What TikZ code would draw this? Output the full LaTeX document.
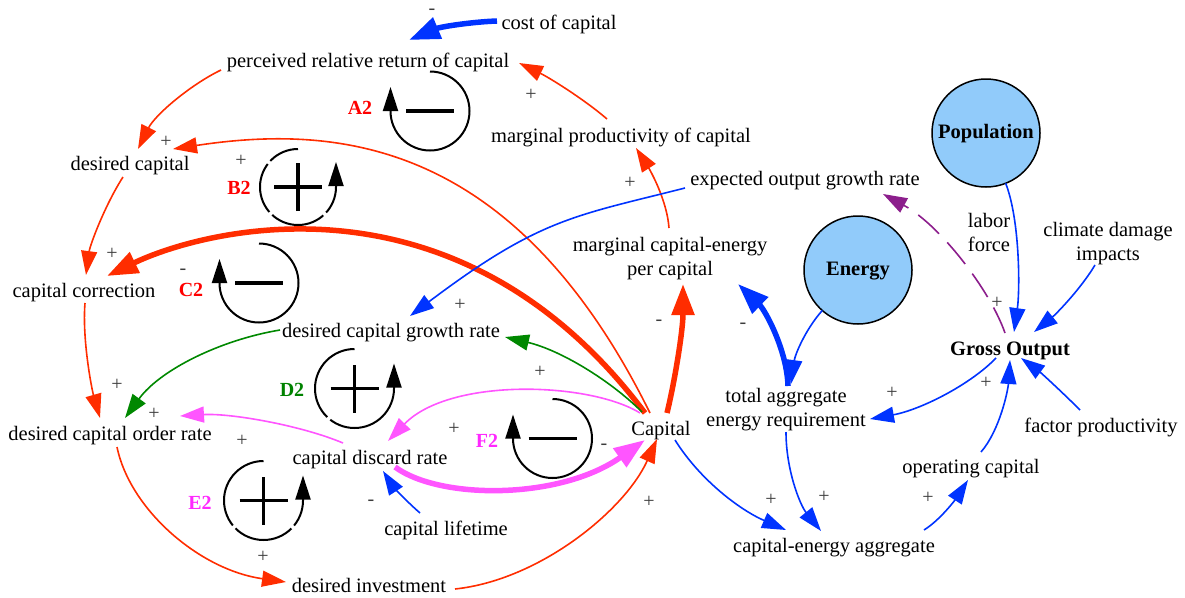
\documentclass[tikz,border=0pt]{standalone}
\usepackage{fontspec}
\setmainfont{Liberation Serif}
\usetikzlibrary{arrows.meta,calc}
\definecolor{cred}{RGB}{255,45,0}
\definecolor{cblue}{RGB}{0,51,255}
\definecolor{cgreen}{RGB}{0,136,0}
\definecolor{cmag}{RGB}{255,85,255}
\definecolor{cpur}{RGB}{140,30,140}
\definecolor{cfill}{RGB}{145,203,250}
\definecolor{lred}{RGB}{255,0,0}
\definecolor{lgreen}{RGB}{0,130,0}
\definecolor{lmag}{RGB}{255,40,255}
\definecolor{pmgray}{RGB}{60,60,60}
\begin{document}
\begin{tikzpicture}[x=1pt,y=-1pt,
  txt/.style={font=\fontsize{20.5}{24}\selectfont, inner sep=0pt, text height=14.5pt, text depth=4.5pt},
  txttwo/.style={font=\fontsize{20.5}{24}\selectfont, inner sep=0pt, align=center},
  boldtxt/.style={font=\fontsize{20.5}{24}\selectfont\bfseries, inner sep=0pt, text height=14.5pt, text depth=4.5pt},
  stock/.style={circle, draw=black, line width=1.5pt, fill=cfill, minimum size=108pt, inner sep=0pt, outer sep=0pt, text height=14.5pt, text depth=4.5pt, font=\fontsize{20.5}{24}\selectfont\bfseries},
  pm/.style={font=\fontsize{20}{24}\selectfont, text=pmgray, inner sep=0pt},
  looplab/.style={font=\fontsize{20}{24}\selectfont\bfseries, inner sep=0pt},
  lnk/.style={line width=1.6pt, -{Triangle[length=24pt,width=16pt]}},
  lnkthick/.style={line width=5.5pt, -{Triangle[length=31pt,width=22pt]}},
  loopc/.style={line width=2pt, -{Triangle[length=24pt,width=15pt]}},
  sign/.style={line width=3.3pt}
]
\useasboundingbox (0,0) rectangle (1185,597);

% ---------- variables ----------
\node[txt] (cost) at (559,24) {cost of capital};
\node[txt] (prrc) at (368,62) {perceived relative return of capital};
\node[txt] (mpc) at (621,137) {marginal productivity of capital};
\node[txt] (dc) at (130,165) {desired capital};
\node[txt] (eogr) at (805,180) {expected output growth rate};
\node[txttwo] (mce) at (670,259) {marginal capital-energy\\per capital};
\node[txt] (cc) at (84,292) {capital correction};
\node[txt] (dcgr) at (391,332) {desired capital growth rate};
\node[boldtxt] (go) at (1010,350) {Gross Output};
\node[txttwo] (lf) at (989,232) {labor\\force};
\node[txttwo] (cdi) at (1108,244) {climate damage\\impacts};
\node[txt] (dcor) at (110,435) {desired capital order rate};
\node[txt] (cdr) at (370,459) {capital discard rate};
\node[txt] (cap) at (661,430) {Capital};
\node[txttwo] (taer) at (786,410) {total aggregate\\energy requirement};
\node[txt] (fp) at (1101,427) {factor productivity};
\node[txt] (oc) at (971,468) {operating capital};
\node[txt] (cl) at (446,530) {capital lifetime};
\node[txt] (cea) at (834,547) {capital-energy aggregate};
\node[txt] (di) at (369,587) {desired investment};
\node[stock] (pop) at (986,133) {Population};
\node[stock] (en) at (858,270) {Energy};

% ---------- connectors ----------
\draw[lnkthick, cblue] ($(cost)+(-62,-3)$) .. controls (470,22) and (440,27) .. ($(prrc)+(41,-22)$);
\draw[lnk, cred] ($(mpc)+(-14,-18)$) .. controls (585,100) and (550,78) .. ($(prrc)+(151,1)$);
\draw[lnk, cred] ($(prrc)+(-147,8)$) .. controls (190,85) and (155,115) .. ($(dc)+(8,-16)$);
\draw[lnk, cred] ($(cap)+(-11,-17)$) .. controls (515,140) and (338,124) .. ($(dc)+(43,-16)$);
\draw[lnkthick, cred] ($(cap)+(-16,-17)$) .. controls (455,160) and (200,231) .. ($(cc)+(23,-16)$);
\draw[lnkthick, cred] ($(cap)+(6,-17)$) .. controls (675,380) and (683,330) .. ($(mce)+(13,25)$);
\draw[lnk, cred] ($(mce)+(-1,-31)$) .. controls (667,200) and (650,170) .. ($(mpc)+(15,11)$);
\draw[lnk, cblue] ($(eogr)+(-120,8)$) .. controls (575,216) and (540,218) .. ($(dcgr)+(19,-16)$);
\draw[lnk, cgreen] ($(cap)+(-19,-18)$) .. controls (610,380) and (560,350) .. ($(dcgr)+(114,5)$);
\draw[lnk, cgreen] ($(dcgr)+(-111,-2)$) .. controls (220,340) and (160,370) .. ($(dcor)+(15,-17)$);
\draw[lnk, cred] ($(dc)+(-7,12)$) .. controls (105,205) and (90,245) .. ($(cc)+(2,-17)$);
\draw[lnk, cred] ($(cc)+(1,11)$) .. controls (82,340) and (92,390) .. ($(dcor)+(-10,-17)$);
\draw[lnk, cmag] ($(cdr)+(-27,-16)$) .. controls (300,425) and (230,413) .. ($(dcor)+(70,-19)$);
\draw[lnk, cmag] ($(cap)+(-21,-17)$) .. controls (590,382) and (450,377) .. ($(cdr)+(18,-18)$);
\draw[lnkthick, cmag] ($(cdr)+(25,8)$) .. controls (440,500) and (560,500) .. ($(cap)+(-16,10)$);
\draw[lnk, cblue] ($(cl)+(-26,-17)$) .. controls (405,500) and (392,485) .. ($(cdr)+(13,12)$);
\draw[lnk, cred] ($(dcor)+(7,12)$) .. controls (130,510) and (200,570) .. ($(di)+(-83,-5)$);
\draw[lnk, cred] ($(di)+(86,2)$) .. controls (540,580) and (625,510) .. ($(cap)+(-4,9)$);
\draw[lnk, cblue] ($(cap)+(14,10)$) .. controls (700,480) and (740,510) .. ($(cea)+(-48,-17)$);
\draw[lnk, cblue] ($(taer)+(0,22)$) .. controls (786,470) and (800,505) .. ($(cea)+(-13,-16)$);
\draw[lnk, cblue] ($(cea)+(90,-17)$) .. controls (940,520) and (955,500) .. ($(oc)+(-3,12)$);
\draw[lnk, cblue] ($(oc)+(10,-16)$) .. controls (1000,430) and (1008,390) .. ($(go)+(0,10)$);
\draw[lnk, cblue] ($(go)+(-14,8)$) .. controls (970,385) and (920,410) .. ($(taer)+(84,9)$);
\draw[lnkthick, cblue] ($(taer)+(2,-24)$) .. controls (787,350) and (765,310) .. ($(mce)+(68,25)$);
\draw[lnk, cblue] (en) .. controls (805,330) and (795,355) .. ($(taer)+(5,-26)$);
\draw[lnk, cblue] (pop) .. controls (1020,220) and (1020,290) .. ($(go)+(4,-18)$);
\draw[lnk, cblue] ($(cdi)+(-13,21)$) .. controls (1080,290) and (1055,315) .. ($(go)+(24,-18)$);
\draw[lnk, cblue] ($(fp)+(-21,-17)$) .. controls (1060,390) and (1040,372) .. ($(go)+(11,8)$);
\draw[lnk, cpur, dash pattern=on 28pt off 12pt] ($(go)+(-5,-17)$) .. controls (990,290) and (940,225) .. ($(eogr)+(78,14)$);

% ---------- polarity signs ----------
\node[pm] (s1) at (432,12) {-};
\node[pm] (s2) at (531,95) {+};
\node[pm] (s3) at (166,142) {+};
\node[pm] (s4) at (241,161) {+};
\node[pm] (s5) at (630,183) {+};
\node[pm] (s6) at (112,254) {+};
\node[pm] (s7) at (183,272) {-};
\node[pm] (s8) at (460,305) {+};
\node[pm] (s9) at (659,323) {-};
\node[pm] (s10) at (743,326) {-};
\node[pm] (s11) at (540,372) {+};
\node[pm] (s12) at (117,385) {+};
\node[pm] (s13) at (154,414) {+};
\node[pm] (s14) at (242,441) {+};
\node[pm] (s15) at (454,429) {+};
\node[pm] (s16) at (604,447) {-};
\node[pm] (s17) at (371,503) {-};
\node[pm] (s18) at (263,557) {+};
\node[pm] (s19) at (649,502) {+};
\node[pm] (s20) at (771,500) {+};
\node[pm] (s21) at (824,497) {+};
\node[pm] (s22) at (928,498) {+};
\node[pm] (s23) at (986,383) {+};
\node[pm] (s24) at (892,393) {+};
\node[pm] (s25) at (997,303) {+};

% ---------- loop identifiers ----------
\begin{scope}[shift={(430,111)},x=1pt,y=1pt]
  \draw[loopc] (90:39.5) arc[start angle=90,end angle=-180,radius=39.5] -- ++(0,24);
  \draw[sign] (-24,0) -- (24,0);
\end{scope}
\begin{scope}[shift={(298,187)},x=1pt,y=1pt]
  \draw[loopc, dash pattern=on 31pt off 4pt on 52pt off 4pt on 56pt off 4pt on 300pt] (90:38) arc[start angle=90,end angle=360,radius=38] -- ++(0,25);
  \draw[sign] (-24,0) -- (24,0) (0,-24) -- (0,24);
\end{scope}
\begin{scope}[shift={(259,283)},x=1pt,y=1pt]
  \draw[loopc] (90:39.5) arc[start angle=90,end angle=-180,radius=39.5] -- ++(0,24);
  \draw[sign] (-24,0) -- (24,0);
\end{scope}
\begin{scope}[shift={(354.5,388.5)},x=1pt,y=1pt]
  \draw[loopc, dash pattern=on 94pt off 4pt on 300pt] (90:39.5) arc[start angle=90,end angle=360,radius=39.5] -- ++(0,25);
  \draw[sign] (-24,0) -- (24,0) (0,-24) -- (0,24);
\end{scope}
\begin{scope}[shift={(263.5,500.5)},x=1pt,y=1pt]
  \draw[loopc, dash pattern=on 89pt off 4pt on 62pt off 4pt on 300pt] (90:39.5) arc[start angle=90,end angle=360,radius=39.5] -- ++(0,25);
  \draw[sign] (-24,0) -- (24,0) (0,-24) -- (0,24);
\end{scope}
\begin{scope}[shift={(552.5,438.5)},x=1pt,y=1pt]
  \draw[loopc] (90:39.5) arc[start angle=90,end angle=-180,radius=39.5] -- ++(0,24);
  \draw[sign] (-24,0) -- (24,0);
\end{scope}

\node[looplab, text=lred] (la2) at (360,108) {A2};
\node[looplab, text=lred] (lb2) at (239,188) {B2};
\node[looplab, text=lred] (lc2) at (191,290) {C2};
\node[looplab, text=lgreen] (ld2) at (292,390) {D2};
\node[looplab, text=lmag] (le2) at (200,503) {E2};
\node[looplab, text=lmag] (lf2) at (487,441) {F2};
\end{tikzpicture}
\end{document}
